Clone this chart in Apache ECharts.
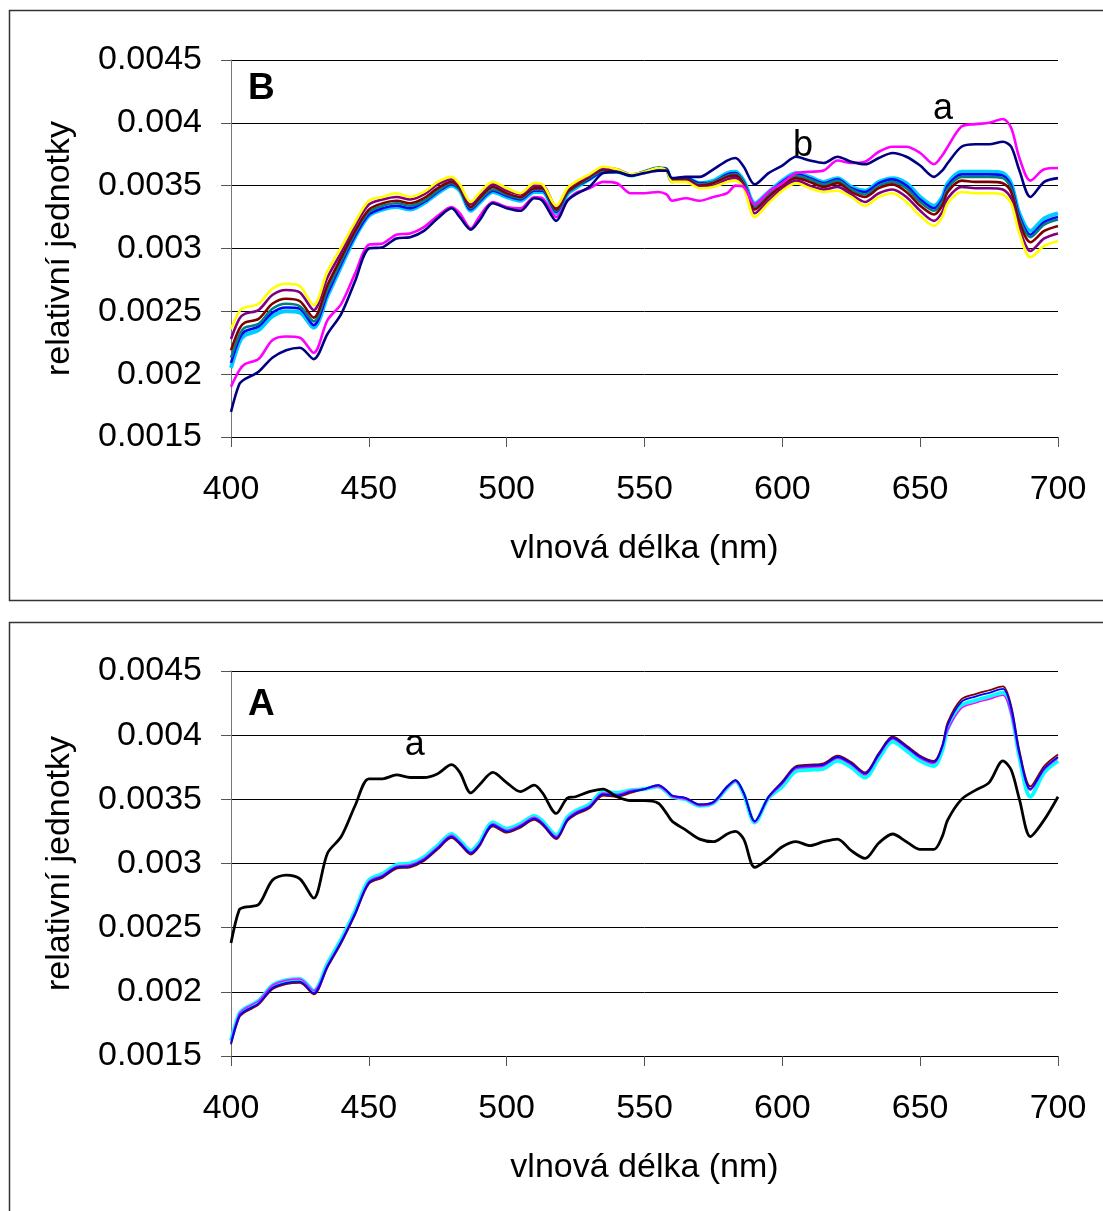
<!DOCTYPE html>
<html>
<head>
<meta charset="utf-8">
<script src="https://cdn.jsdelivr.net/npm/echarts@6/dist/echarts.min.js"></script>
<style>
  html, body { margin: 0; padding: 0; background: #fff; }
  #chart { width: 1103px; height: 1211px; }
</style>
</head>
<body>
<div id="chart"></div>
<script>
// vlnové délky (nm), společné pro všechny křivky
const wl = [400,403,405,410,415,420,425,430,435,440,445,450,455,460,465,470,475,480,483,487,490,495,500,505,510,513,518,522,525,530,535,540,545,550,555,558,560,565,570,575,580,583,586,590,595,600,605,610,615,620,625,630,635,640,645,650,655,658,660,665,670,675,680,683,686,690,695,700]

// panel B
const bYellow = [0.00236,0.00250,0.00253,0.00256,0.00268,0.00272,0.00270,0.00255,0.00282,0.00301,0.00321,0.00338,0.00341,0.00344,0.00341,0.00345,0.00353,0.00357,0.00351,0.00337,0.00344,0.00353,0.00348,0.00344,0.00352,0.00351,0.00334,0.00348,0.00353,0.00359,0.00365,0.00363,0.00359,0.00361,0.00364,0.00362,0.00353,0.00353,0.00348,0.00349,0.00353,0.00354,0.00348,0.00325,0.00336,0.00346,0.00352,0.00348,0.00345,0.00346,0.00341,0.00334,0.00341,0.00344,0.00337,0.00326,0.00318,0.00325,0.00336,0.00345,0.00344,0.00344,0.00343,0.00336,0.00312,0.00293,0.00302,0.00306]
const bPurple = [0.00228,0.00244,0.00248,0.00251,0.00263,0.00267,0.00265,0.00251,0.00277,0.00297,0.00318,0.00335,0.00339,0.00341,0.00339,0.00343,0.00351,0.00355,0.00350,0.00335,0.00342,0.00351,0.00346,0.00343,0.00350,0.00350,0.00333,0.00347,0.00352,0.00358,0.00364,0.00363,0.00359,0.00361,0.00364,0.00362,0.00353,0.00354,0.00349,0.00350,0.00355,0.00356,0.00350,0.00328,0.00338,0.00348,0.00354,0.00350,0.00347,0.00349,0.00343,0.00337,0.00344,0.00347,0.00341,0.00330,0.00322,0.00329,0.00340,0.00349,0.00348,0.00348,0.00347,0.00340,0.00316,0.00298,0.00308,0.00312]
const bMaroon = [0.00219,0.00236,0.00241,0.00244,0.00256,0.00260,0.00258,0.00245,0.00271,0.00293,0.00314,0.00331,0.00336,0.00338,0.00336,0.00340,0.00348,0.00353,0.00348,0.00333,0.00340,0.00349,0.00344,0.00341,0.00348,0.00348,0.00331,0.00345,0.00350,0.00357,0.00363,0.00362,0.00358,0.00361,0.00364,0.00363,0.00354,0.00355,0.00350,0.00352,0.00357,0.00358,0.00351,0.00331,0.00341,0.00350,0.00356,0.00353,0.00349,0.00352,0.00345,0.00341,0.00348,0.00351,0.00345,0.00334,0.00327,0.00334,0.00345,0.00354,0.00353,0.00353,0.00352,0.00345,0.00321,0.00305,0.00314,0.00318]
const bTeal = [0.00213,0.00231,0.00237,0.00240,0.00252,0.00256,0.00254,0.00242,0.00267,0.00290,0.00312,0.00329,0.00334,0.00336,0.00334,0.00338,0.00346,0.00352,0.00347,0.00332,0.00338,0.00347,0.00343,0.00340,0.00347,0.00347,0.00330,0.00344,0.00349,0.00356,0.00362,0.00362,0.00358,0.00361,0.00364,0.00363,0.00354,0.00355,0.00351,0.00353,0.00358,0.00359,0.00353,0.00333,0.00343,0.00352,0.00358,0.00355,0.00351,0.00354,0.00347,0.00343,0.00350,0.00353,0.00348,0.00337,0.00330,0.00337,0.00348,0.00357,0.00357,0.00357,0.00356,0.00348,0.00324,0.00309,0.00319,0.00323]
const bBlue = [0.00209,0.00228,0.00234,0.00238,0.00249,0.00253,0.00252,0.00239,0.00264,0.00288,0.00310,0.00327,0.00332,0.00334,0.00332,0.00337,0.00345,0.00351,0.00347,0.00331,0.00337,0.00346,0.00342,0.00339,0.00346,0.00346,0.00329,0.00344,0.00349,0.00355,0.00361,0.00361,0.00358,0.00361,0.00364,0.00363,0.00354,0.00356,0.00352,0.00353,0.00359,0.00360,0.00353,0.00335,0.00344,0.00353,0.00359,0.00356,0.00352,0.00355,0.00348,0.00345,0.00352,0.00355,0.00350,0.00339,0.00332,0.00339,0.00350,0.00359,0.00359,0.00359,0.00358,0.00350,0.00326,0.00311,0.00321,0.00325]
const bSky = [0.00205,0.00225,0.00231,0.00235,0.00246,0.00250,0.00249,0.00237,0.00262,0.00286,0.00309,0.00326,0.00331,0.00333,0.00331,0.00336,0.00344,0.00350,0.00346,0.00330,0.00336,0.00345,0.00341,0.00338,0.00345,0.00345,0.00328,0.00343,0.00348,0.00355,0.00361,0.00361,0.00358,0.00361,0.00364,0.00363,0.00354,0.00356,0.00352,0.00354,0.00360,0.00361,0.00354,0.00336,0.00345,0.00354,0.00360,0.00357,0.00353,0.00356,0.00349,0.00346,0.00353,0.00356,0.00352,0.00341,0.00334,0.00341,0.00352,0.00361,0.00361,0.00361,0.00360,0.00352,0.00328,0.00314,0.00324,0.00328]
const bMagenta = [0.00190,0.00203,0.00208,0.00212,0.00227,0.00230,0.00229,0.00217,0.00243,0.00256,0.00280,0.00303,0.00304,0.00311,0.00312,0.00317,0.00326,0.00333,0.00328,0.00316,0.00325,0.00337,0.00333,0.00332,0.00341,0.00340,0.00325,0.00338,0.00344,0.00348,0.00353,0.00352,0.00344,0.00344,0.00345,0.00343,0.00338,0.00340,0.00338,0.00341,0.00344,0.00350,0.00349,0.00335,0.00345,0.00352,0.00360,0.00361,0.00362,0.00370,0.00368,0.00369,0.00377,0.00381,0.00381,0.00376,0.00367,0.00374,0.00381,0.00397,0.00399,0.00400,0.00403,0.00396,0.00372,0.00354,0.00363,0.00364]
const bNavy = [0.00170,0.00192,0.00196,0.00202,0.00213,0.00219,0.00221,0.00212,0.00232,0.00248,0.00274,0.00300,0.00301,0.00308,0.00309,0.00314,0.00324,0.00332,0.00325,0.00315,0.00322,0.00336,0.00332,0.00330,0.00340,0.00338,0.00322,0.00338,0.00343,0.00349,0.00360,0.00361,0.00358,0.00360,0.00362,0.00362,0.00356,0.00357,0.00357,0.00363,0.00370,0.00372,0.00365,0.00351,0.00360,0.00366,0.00373,0.00370,0.00368,0.00373,0.00369,0.00367,0.00372,0.00376,0.00373,0.00366,0.00357,0.00362,0.00368,0.00381,0.00383,0.00383,0.00385,0.00381,0.00362,0.00341,0.00353,0.00356]

// panel A
const aBlack = [0.00238,0.00264,0.00266,0.00268,0.00287,0.00291,0.00288,0.00273,0.00308,0.00321,0.00345,0.00366,0.00366,0.00369,0.00367,0.00367,0.00370,0.00377,0.00371,0.00355,0.00361,0.00371,0.00363,0.00356,0.00361,0.00355,0.00339,0.00351,0.00352,0.00356,0.00358,0.00352,0.00349,0.00349,0.00347,0.00339,0.00333,0.00326,0.00319,0.00317,0.00323,0.00325,0.00319,0.00297,0.00304,0.00313,0.00317,0.00314,0.00317,0.00319,0.00310,0.00304,0.00316,0.00323,0.00317,0.00311,0.00311,0.00321,0.00334,0.00350,0.00357,0.00363,0.00380,0.00373,0.00350,0.00321,0.00334,0.00352]
const aBlue = [0.00160,0.00181,0.00185,0.00191,0.00203,0.00207,0.00208,0.00199,0.00220,0.00239,0.00261,0.00285,0.00290,0.00297,0.00298,0.00303,0.00312,0.00321,0.00316,0.00308,0.00314,0.00330,0.00325,0.00329,0.00335,0.00331,0.00320,0.00334,0.00339,0.00344,0.00354,0.00353,0.00356,0.00358,0.00361,0.00357,0.00353,0.00351,0.00346,0.00348,0.00360,0.00365,0.00355,0.00333,0.00352,0.00363,0.00375,0.00376,0.00377,0.00383,0.00378,0.00370,0.00385,0.00398,0.00391,0.00383,0.00379,0.00391,0.00408,0.00426,0.00430,0.00433,0.00436,0.00421,0.00386,0.00358,0.00374,0.00383]
const aCyan = [0.00162,0.00183,0.00187,0.00193,0.00205,0.00209,0.00210,0.00201,0.00222,0.00241,0.00263,0.00287,0.00292,0.00299,0.00300,0.00305,0.00314,0.00323,0.00318,0.00310,0.00316,0.00332,0.00327,0.00331,0.00337,0.00333,0.00322,0.00336,0.00341,0.00346,0.00356,0.00355,0.00357,0.00358,0.00360,0.00356,0.00352,0.00350,0.00345,0.00347,0.00359,0.00364,0.00354,0.00332,0.00351,0.00360,0.00372,0.00373,0.00374,0.00380,0.00375,0.00367,0.00382,0.00395,0.00388,0.00380,0.00376,0.00388,0.00405,0.00423,0.00427,0.00430,0.00433,0.00418,0.00383,0.00352,0.00371,0.00380]
const aMagenta = [0.00162,0.00183,0.00187,0.00193,0.00205,0.00209,0.00210,0.00201,0.00221,0.00240,0.00262,0.00286,0.00291,0.00298,0.00299,0.00304,0.00313,0.00322,0.00317,0.00309,0.00315,0.00331,0.00326,0.00330,0.00336,0.00332,0.00321,0.00335,0.00340,0.00345,0.00355,0.00354,0.00357,0.00358,0.00360,0.00356,0.00352,0.00350,0.00345,0.00347,0.00359,0.00364,0.00354,0.00332,0.00351,0.00362,0.00374,0.00375,0.00376,0.00382,0.00377,0.00369,0.00384,0.00397,0.00390,0.00382,0.00378,0.00390,0.00404,0.00421,0.00425,0.00428,0.00431,0.00416,0.00384,0.00357,0.00373,0.00382]
const aMaroon = [0.00159,0.00180,0.00184,0.00190,0.00202,0.00206,0.00207,0.00198,0.00219,0.00238,0.00260,0.00284,0.00289,0.00296,0.00297,0.00302,0.00311,0.00320,0.00315,0.00307,0.00313,0.00329,0.00324,0.00328,0.00334,0.00330,0.00319,0.00333,0.00338,0.00343,0.00353,0.00352,0.00355,0.00358,0.00361,0.00357,0.00353,0.00351,0.00346,0.00348,0.00360,0.00365,0.00355,0.00333,0.00352,0.00364,0.00376,0.00377,0.00378,0.00384,0.00379,0.00371,0.00386,0.00399,0.00392,0.00384,0.00380,0.00392,0.00410,0.00428,0.00432,0.00435,0.00438,0.00423,0.00388,0.00360,0.00376,0.00385]

const font = '"Liberation Sans", Arial, sans-serif'
const chart = echarts.init(document.getElementById('chart'))

const pts = arr => wl.map((x, i) => [x, arr[i]])

function line(arr, color, width, gi, mark) {
  const s = {
    type: 'line', xAxisIndex: gi, yAxisIndex: gi, data: pts(arr),
    showSymbol: false, smooth: 0.3, silent: true,
    lineStyle: {color, width}, itemStyle: {color}
  }
  if (mark) {
    s.markPoint = {
      symbol: 'circle', symbolSize: 1, itemStyle: {color: 'rgba(0,0,0,0)'},
      label: {show: true, position: 'inside', color: '#000', fontSize: 36, fontFamily: font},
      data: mark.map(m => ({coord: m.coord, label: {formatter: m.text}}))
    }
  }
  return s
}

function xAx(gi) {
  return {
    gridIndex: gi, type: 'value', min: 400, max: 700, interval: 50,
    name: 'vlnová délka (nm)', nameLocation: 'middle', nameGap: 95,
    nameTextStyle: {fontSize: 34, color: '#000', fontFamily: font},
    axisLine: {lineStyle: {color: '#000', width: 1}},
    axisTick: {length: 10, lineStyle: {color: '#555'}},
    axisLabel: {fontSize: 34, color: '#000', fontFamily: font, margin: 36},
    splitLine: {show: false}
  }
}

function yAx(gi) {
  return {
    gridIndex: gi, type: 'value', min: 0.0015, max: 0.0045, interval: 0.0005,
    name: 'relativní jednotky', nameLocation: 'middle', nameRotate: 90, nameGap: 154,
    nameTextStyle: {fontSize: 34, color: '#000', fontFamily: font},
    axisLine: {show: true, lineStyle: {color: '#777', width: 1}},
    axisTick: {show: true, length: 10, lineStyle: {color: '#555'}},
    axisLabel: {fontSize: 34, color: '#000', fontFamily: font, margin: 29},
    splitLine: {show: true, lineStyle: {color: '#000', width: 1}}
  }
}

const option = {
  animation: false,
  backgroundColor: '#fff',
  title: [
    {text: 'B', left: 248, top: 70, padding: 0, textStyle: {fontSize: 37, fontWeight: 'bold', color: '#000', fontFamily: font}},
    {text: 'A', left: 248, top: 686, padding: 0, textStyle: {fontSize: 37, fontWeight: 'bold', color: '#000', fontFamily: font}}
  ],
  grid: [
    {left: 231, top: 60, width: 827, height: 377},
    {left: 231, top: 671, width: 827, height: 385}
  ],
  xAxis: [xAx(0), xAx(1)],
  yAxis: [yAx(0), yAx(1)],
  graphic: [
    {type: 'rect', shape: {x: 9.5, y: 10.5, width: 1200, height: 590}, style: {fill: 'none', stroke: '#333', lineWidth: 1.5}},
    {type: 'rect', shape: {x: 9.5, y: 622.5, width: 1200, height: 620}, style: {fill: 'none', stroke: '#333', lineWidth: 1.5}}
  ],
  series: [
    line(bSky, '#00CCFF', 4, 0),
    line(bBlue, '#0000FF', 2.6, 0),
    line(bTeal, '#008080', 2.6, 0),
    line(bMaroon, '#800000', 2.6, 0),
    line(bPurple, '#800080', 2.6, 0),
    line(bYellow, '#FFFF00', 2.6, 0),
    line(bMagenta, '#FF00FF', 2.6, 0, [{coord: [658.3, 0.004107], text: 'a'}]),
    line(bNavy, '#000080', 2.6, 0, [{coord: [607.5, 0.003812], text: 'b'}]),

    line(aCyan, '#00FFFF', 4, 1),
    line(aMagenta, '#FF00FF', 1.4, 1),
    line(aMaroon, '#800000', 1.8, 1),
    line(aBlue, '#0000FF', 1.8, 1),
    line(aBlack, '#000000', 2.8, 1, [{coord: [466.7, 0.00392], text: 'a'}])
  ]
}

chart.setOption(option)
</script>
</body>
</html>
